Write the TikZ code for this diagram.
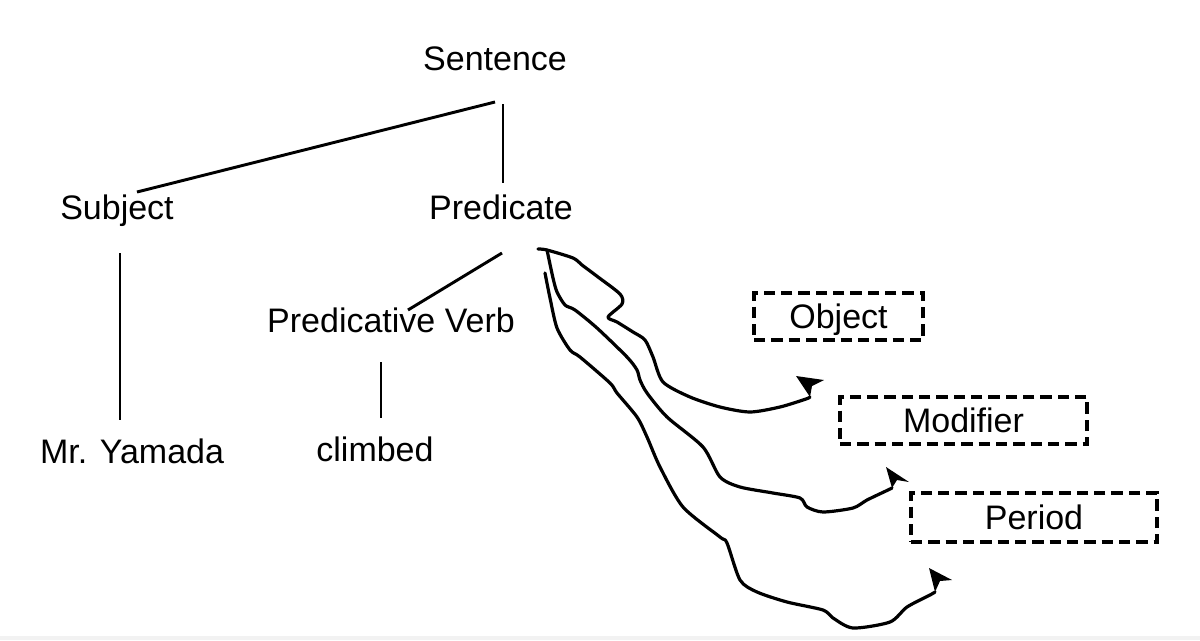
\documentclass[tikz,border=0pt]{standalone}
\usepackage{fontspec}
\setmainfont{Liberation Sans}
\usetikzlibrary{calc}
\begin{document}
\begin{tikzpicture}[x=0.75pt,y=-0.75pt,
  lbl/.style={anchor=base,inner sep=0pt,font=\fontsize{25.5}{30}\selectfont},
  tree/.style={line width=2.2pt},
  dbox/.style={draw,dash pattern=on 8.5pt off 4.5pt,line width=2.3pt,inner sep=0pt,
    text height=18.3pt,text depth=0pt,font=\fontsize{25.5}{30}\selectfont},
  wavy/.style={line width=2.4pt,line join=round,line cap=round},
  tiphead/.style={fill=black}]
\fill[white] (0,0) rectangle (1200,640);
\useasboundingbox (0,0) rectangle (1200,640);
\fill[black!5] (0,636) rectangle (1200,640);

% tree nodes
\node[lbl] (sent) at (495,70) {Sentence};
\node[lbl] (subj) at (117,219) {Subject};
\node[lbl] (pred) at (501,219) {Predicate};
\node[lbl] (pv) at (391,332) {Predicative Verb};
\node[lbl] (yam) at (132,463) {Mr. Yamada};
\node[lbl] (clim) at (375,461) {climbed};

% dashed boxes
\node[dbox,minimum width=126.75pt,minimum height=35.25pt] (obj) at (838.5,316.5) {Object};
\node[dbox,minimum width=185.25pt,minimum height=35.25pt] (mod) at (963.5,420.5) {Modifier};
\node[dbox,minimum width=184.5pt,minimum height=36.75pt] (per) at (1034,517.5) {Period};

% tree edges
\draw[tree] ([shift={(0,32)}]sent.base) -- ([shift={(20,-27)}]subj.base);
\draw[tree] ([shift={(8,34)}]sent.base) -- ([shift={(2,-36)}]pred.base);
\draw[tree] ([shift={(3,34)}]subj.base) -- ([shift={(-12,-43)}]yam.base);
\draw[tree] ([shift={(1,34)}]pred.base) -- ([shift={(17,-22)}]pv.base);
\draw[tree] ([shift={(-10,30)}]pv.base) -- ([shift={(6,-43)}]clim.base);

% wavy connectors
\coordinate (w1s) at (538,249);
\coordinate (w1e) at (810,397);
\coordinate (w2e) at (892,488);
\coordinate (w3s) at (545,273);
\coordinate (w3e) at (935,592);

\draw[wavy] plot[smooth,tension=0.45] coordinates {(538,249) (547,250) (573,258) (582,265)
  (598,277) (620,294) (622,304) (608,317) (617,322) (633,332) (645,340) (653,357)
  (663,382) (690,397) (720,407) (750,412) (780,407) (806,399) (810,397)};
\fill[tiphead] (w1e) -- (796,376) -- (824,380) -- (812,386) -- cycle;

\draw[wavy] plot[smooth,tension=0.45] coordinates {(547,250) (553,278) (557,292) (565,305)
  (575,310) (597,328) (627,357) (637,370) (640,380) (647,393) (667,417) (703,447)
  (720,477) (740,487) (773,493) (800,498) (807,507) (823,512) (853,508) (867,500)
  (888,490) (892,488)};
\fill[tiphead] (w2e) -- (886,467) -- (909,482) -- (897,480) -- cycle;

\draw[wavy] plot[smooth,tension=0.45] coordinates {(545,273) (550,298) (557,328) (570,350)
  (580,357) (610,383) (617,393) (637,417) (647,437) (660,467) (683,507) (720,537)
  (727,543) (740,580) (757,592) (787,602) (823,610) (833,618) (853,628) (890,622)
  (907,607) (930,595) (935,592)};
\fill[tiphead] (w3e) -- (929,568) -- (952,580) -- (940,581) -- cycle;
\end{tikzpicture}
\end{document}
